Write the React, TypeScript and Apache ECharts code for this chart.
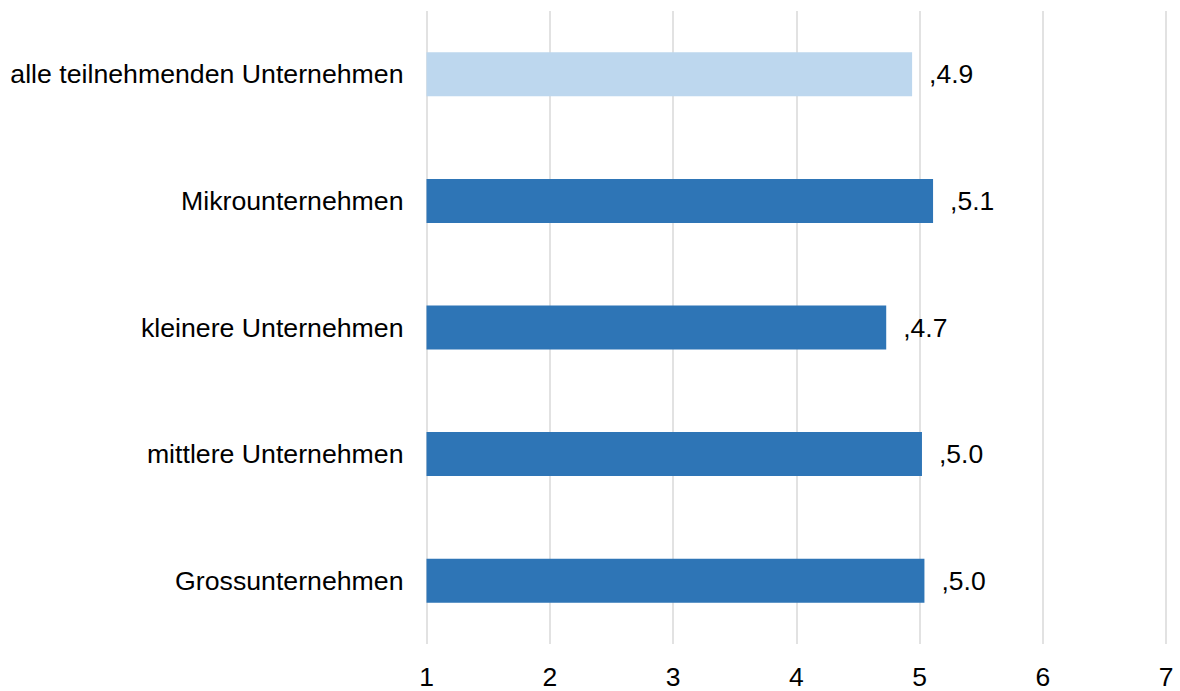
import React, { useEffect, useRef } from "react";
import * as echarts from "echarts";

const categories = [
  "alle teilnehmenden Unternehmen",
  "Mikrounternehmen",
  "kleinere Unternehmen",
  "mittlere Unternehmen",
  "Grossunternehmen",
];
const values = [4.94, 5.11, 4.73, 5.02, 5.04];
const barColors = ["#BDD7EE", "#2E75B6", "#2E75B6", "#2E75B6", "#2E75B6"];
const xTicks = [1, 2, 3, 4, 5, 6, 7];

export default function App() {
  const ref = useRef<HTMLDivElement>(null);
  useEffect(() => {
    if (!ref.current) return;
    const chart = echarts.init(ref.current, undefined, { renderer: "svg" });
    const font = "'Liberation Sans', Arial, sans-serif";
    chart.setOption({
      animation: false,
      grid: { left: 426.5, right: 14, top: 11, bottom: 47, containLabel: false },
      xAxis: {
        type: "value",
        min: xTicks[0],
        max: xTicks[xTicks.length - 1],
        interval: 1,
        axisLine: { show: false },
        axisTick: { show: false },
        splitLine: { show: true, lineStyle: { color: "#d9d9d9", width: 1.5 } },
        axisLabel: { color: "#000", fontSize: 26.5, fontFamily: font, margin: 19 },
      },
      yAxis: {
        type: "category",
        inverse: true,
        data: categories,
        axisLine: { show: false },
        axisTick: { show: false },
        axisLabel: { color: "#000", fontSize: 26.7, fontFamily: font, margin: 23 },
      },
      series: [
        {
          type: "bar",
          barWidth: 44,
          data: values.map((v, i) => ({ value: v, itemStyle: { color: barColors[i] } })),
          label: {
            show: true,
            position: "right",
            distance: 17,
            color: "#000",
            fontSize: 26.5,
            fontFamily: font,
            formatter: (p: any) => "," + Number(p.value).toFixed(1),
          },
        },
      ],
    });
    return () => chart.dispose();
  }, []);
  return (
    <div
      ref={ref}
      style={{ position: "fixed", left: 0, top: 0, width: 1180, height: 691, background: "#fff" }}
    />
  );
}
